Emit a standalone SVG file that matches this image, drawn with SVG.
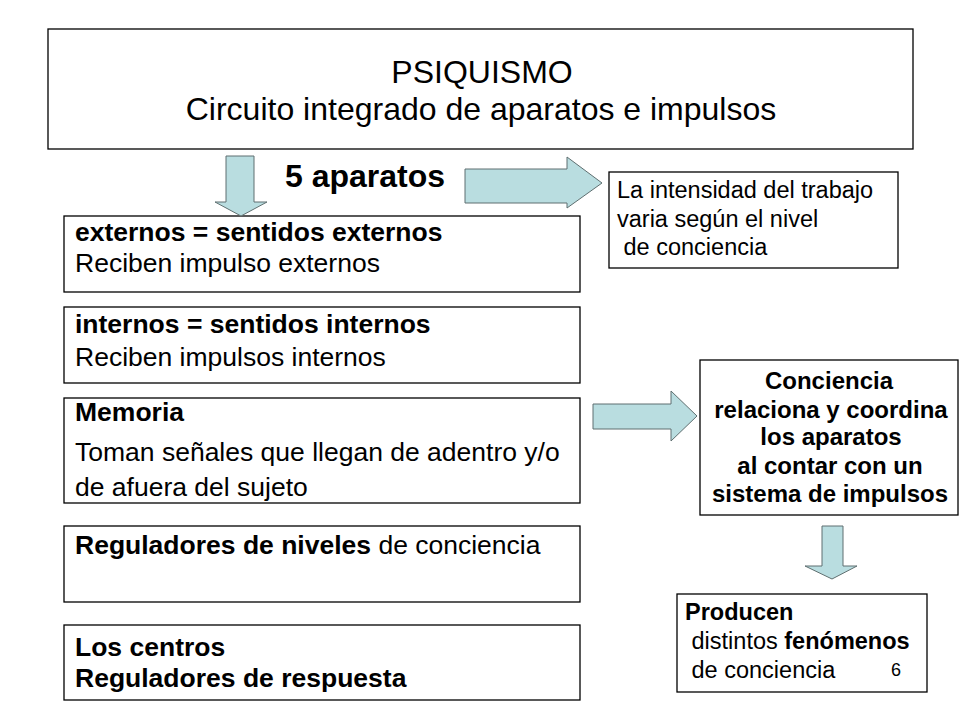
<svg xmlns="http://www.w3.org/2000/svg" width="960" height="720" viewBox="0 0 960 720">
<style>
.box{fill:#fff;stroke:#000;stroke-width:1.3}
.arr{fill:#B9DDE0;stroke:#5f6f70;stroke-width:1}
text{font-family:"Liberation Sans",Arial,sans-serif;fill:#000}
.b{font-weight:bold}
.m{font-size:26.5px}
.r{font-size:23.5px}
.c{font-size:24px;font-weight:bold;text-anchor:middle}
</style>
<rect width="960" height="720" fill="#fff"/>
<g id="psiquismo">
<rect class="box" x="48" y="29" width="865" height="120"/>
<text x="482" y="83" font-size="32" text-anchor="middle">PSIQUISMO</text>
<text x="481" y="120" font-size="32" text-anchor="middle">Circuito integrado de aparatos e impulsos</text>
</g>
<g id="aparatos-label">
<text class="b" x="285" y="187" font-size="32">5 aparatos</text>
</g>
<g id="externos">
<rect class="box" x="64" y="216" width="516" height="76"/>
<text class="b m" x="75" y="241">externos = sentidos externos</text>
<text class="m" x="75" y="272">Reciben impulso externos</text>
</g>
<g id="internos">
<rect class="box" x="64" y="307" width="516" height="76"/>
<text class="b m" x="75" y="333">internos = sentidos internos</text>
<text class="m" x="75" y="366">Reciben impulsos internos</text>
</g>
<g id="memoria">
<rect class="box" x="64" y="398" width="516" height="105"/>
<text class="b m" x="75" y="421">Memoria</text>
<text class="m" x="75" y="461">Toman señales que llegan de adentro y/o</text>
<text class="m" x="75" y="496">de afuera del sujeto</text>
</g>
<g id="reguladores">
<rect class="box" x="64" y="526" width="516" height="76"/>
<text class="m" x="75" y="554"><tspan class="b">Reguladores de niveles</tspan> de conciencia</text>
</g>
<g id="centros">
<rect class="box" x="64" y="625" width="516" height="75"/>
<text class="b m" x="75" y="656">Los centros</text>
<text class="b m" x="75" y="687">Reguladores de respuesta</text>
</g>
<g id="intensidad">
<rect class="box" x="609" y="172" width="289" height="96"/>
<text class="r" x="617" y="198">La intensidad del trabajo</text>
<text class="r" x="617" y="227">varia según el nivel</text>
<text class="r" x="617" y="255" xml:space="preserve"> de conciencia</text>
</g>
<g id="conciencia">
<rect class="box" x="700" y="360" width="258" height="155"/>
<text class="c" x="829" y="389">Conciencia</text>
<text class="c" x="831" y="418">relaciona y coordina</text>
<text class="c" x="831" y="445">los aparatos</text>
<text class="c" x="830" y="474">al contar con un</text>
<text class="c" x="830" y="502">sistema de impulsos</text>
</g>
<g id="producen">
<rect class="box" x="677" y="594" width="250" height="98"/>
<text class="b r" x="685" y="620">Producen</text>
<text class="r" x="685" y="649" xml:space="preserve"> distintos <tspan class="b">fenómenos</tspan></text>
<text class="r" x="685" y="678" xml:space="preserve"> de conciencia</text>
<text x="891" y="676" font-size="18">6</text>
</g>
<g id="connectors">
<polygon class="arr" points="226,156 254,156 254,202 267,202 241,216 215,202 226,202"/>
<polygon class="arr" points="465,169 567,169 567,157 602,183 567,208 567,203 465,203"/>
<polygon class="arr" points="593,404 671,404 671,391 697,416 671,441 671,429 593,429"/>
<polygon class="arr" points="822,526 843,526 843,566 857,566 832,579 805,566 822,566"/>
</g>
</svg>
